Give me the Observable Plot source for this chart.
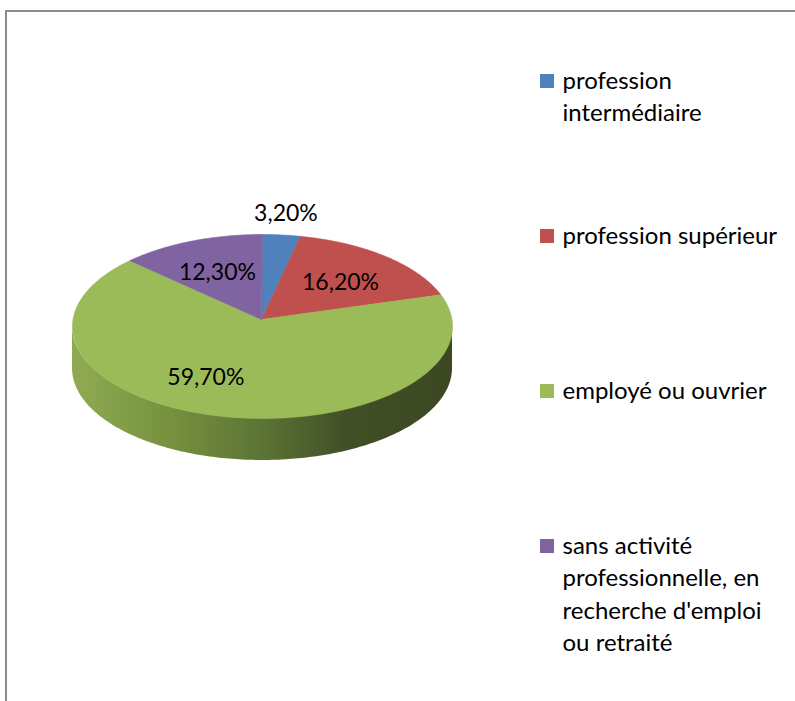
<!DOCTYPE html>
<html>
<head>
<meta charset="utf-8">
<script src="https://cdn.jsdelivr.net/npm/d3@7"></script>
<script src="https://cdn.jsdelivr.net/npm/@observablehq/plot@0.6"></script>
<style>
  html, body { margin: 0; padding: 0; background: #fff; overflow: hidden; }
  #frame { position: absolute; left: 5px; top: 10px; width: 900px; height: 800px;
           border-top: 2px solid #8c8c8c; border-left: 2px solid #8c8c8c; }
  #chart { position: absolute; left: 0; top: 0; }
</style>
</head>
<body>
<div id="frame"></div>
<div id="chart"></div>
<script>
// ---- data ----
const categories = [
  "profession intermédiaire",
  "profession supérieur",
  "employé ou ouvrier",
  "sans activité professionnelle, en recherche d'emploi ou retraité"
];
const legendLabels = [
  ["profession", "intermédiaire"],
  ["profession supérieur"],
  ["employé ou ouvrier"],
  ["sans activité", "professionnelle, en", "recherche d'emploi", "ou retraité"]
];
const values = [3.2, 16.2, 59.7, 12.3];          // percentages shown on the slices
const colors = ["#4F81BD", "#C0504D", "#9BBB59", "#8064A2"];
// the labelled shares add up to 91.4 %; the remaining share is drawn in the
// green slice (as in the picture) just before the "employé ou ouvrier" part
const unlabeledShare = 100 - d3.sum(values);

// ---- layout ----
const W = 795, H = 701;
const CX = 262, CY = 326, RX = 190, RY = 92;   // top ellipse
const AX = 261, AY = 319;                     // apex (perspective)
const DEPTH = 42;
const FONT = "Lato, 'Open Sans', sans-serif";

const items = [
  {key: categories[0], v: values[0], label: true},
  {key: categories[1], v: values[1], label: true},
  {key: categories[2], v: unlabeledShare, label: false},
  {key: categories[2], v: values[2], label: true},
  {key: categories[3], v: values[3], label: true}
];
const arcs = d3.pie().sort(null).value(d => d.v).startAngle(0).endAngle(2 * Math.PI)(items);

// merge consecutive arcs of the same category into one visible slice
const slices = [];
arcs.forEach(a => {
  const last = slices[slices.length - 1];
  if (last && last.key === a.data.key) last.end = a.endAngle;
  else slices.push({key: a.data.key, start: a.startAngle, end: a.endAngle});
});

const ex = a => CX + RX * Math.sin(a);
const ey = a => CY - RY * Math.cos(a);

// top face polygons
const topPts = [];
slices.forEach((s, i) => {
  const n = Math.max(2, Math.ceil((s.end - s.start) / (Math.PI / 180)));
  topPts.push({id: i, key: s.key, x: AX, y: AY});
  for (let k = 0; k <= n; k++) {
    const t = s.start + (s.end - s.start) * k / n;
    topPts.push({id: i, key: s.key, x: ex(t), y: ey(t)});
  }
});

// front side (visible between 90° and 270°)
const sidePts = d3.range(0, 181).map(k => {
  const t = Math.PI / 2 + Math.PI * k / 180;
  return {x: ex(t), y1: ey(t), y2: ey(t) + DEPTH};
});

// slice labels
const fmt = v => v.toFixed(2).replace(".", ",") + "%";
const labelData = arcs.filter(a => a.data.label).map(a => {
  const m = (a.startAngle + a.endAngle) / 2;
  const f = a.data.v < 5 ? 1.23 : 0.63;
  return {x: CX + RX * f * Math.sin(m), y: CY - RY * f * Math.cos(m), text: fmt(a.data.v)};
});

// legend
const LEG_SQ_X = 540, LEG_SQ = 14, LEG_TXT_X = 562, LEG_Y0 = 88, LEG_STEP = 155, LEG_LH = 32.5, LEG_FS = 24;
const legSquares = categories.map((c, i) => ({key: c, y: LEG_Y0 + i * LEG_STEP}));
const legLines = legendLabels.flatMap((lines, i) =>
  lines.map((t, j) => ({text: t, y: LEG_Y0 + i * LEG_STEP + j * LEG_LH})));

const plot = Plot.plot({
  width: W, height: H,
  margin: 0,
  style: {fontFamily: FONT, background: "transparent", overflow: "visible"},
  x: {domain: [0, W], range: [0, W], axis: null},
  y: {domain: [0, H], range: [0, H], axis: null},
  color: {domain: categories, range: colors},
  marks: [
    Plot.areaY(sidePts, {x: "x", y1: "y1", y2: "y2", fill: "url(#sideGrad)", curve: "linear"}),
    Plot.line(topPts, {x: "x", y: "y", z: "id", fill: "key", stroke: "key", strokeWidth: 0.6, curve: "linear-closed"}),
    Plot.text(labelData, {x: "x", y: "y", text: "text", fontSize: 23, fill: "#000", textAnchor: "middle"}),
    Plot.rect(legSquares, {x1: () => LEG_SQ_X, x2: () => LEG_SQ_X + LEG_SQ,
                           y1: d => d.y - LEG_SQ, y2: d => d.y, fill: "key"}),
    Plot.text(legLines, {x: () => LEG_TXT_X, y: d => d.y - 0.32 * LEG_FS, text: "text",
                         fontSize: LEG_FS, fill: "#000", textAnchor: "start"})
  ]
});

// gradient for the 3-D side
const svg = d3.select(plot);
const grad = svg.insert("defs", ":first-child").append("linearGradient")
  .attr("id", "sideGrad").attr("gradientUnits", "userSpaceOnUse")
  .attr("x1", CX - RX).attr("x2", CX + RX).attr("y1", 0).attr("y2", 0);
[[0, "#8fab52"], [0.25, "#77923f"], [0.5, "#5c7435"], [0.72, "#414f26"], [1, "#3b4822"]]
  .forEach(([o, c]) => grad.append("stop").attr("offset", o).attr("stop-color", c));

document.getElementById("chart").appendChild(plot);
</script>
</body>
</html>
